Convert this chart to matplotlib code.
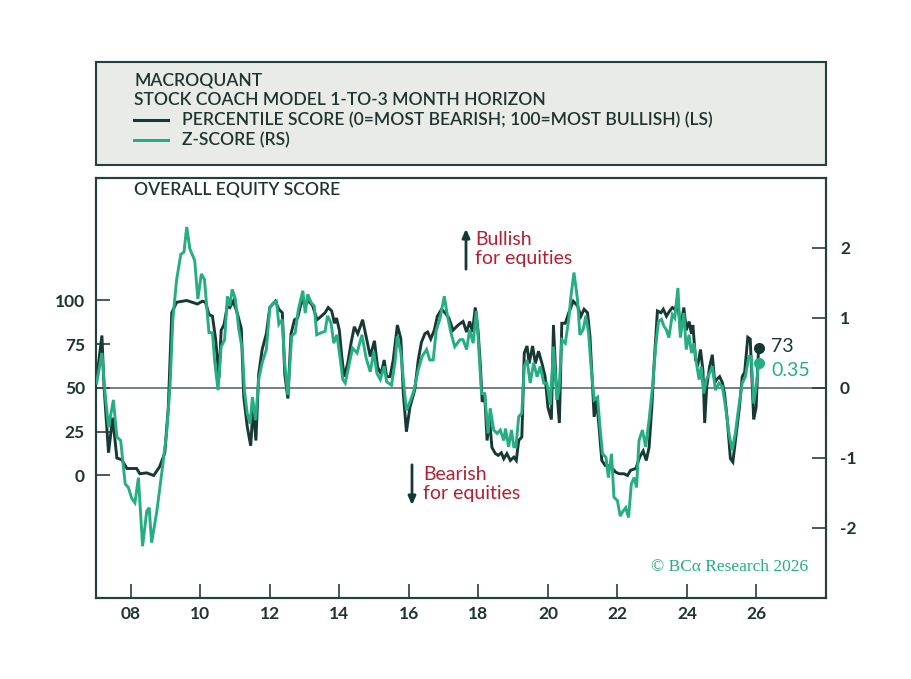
import matplotlib
matplotlib.use("Agg")
import matplotlib.pyplot as plt
from matplotlib.patches import Rectangle
from matplotlib.lines import Line2D

# ---------------- data ----------------
pct_dates = [2007.02, 2007.17, 2007.23, 2007.36, 2007.48, 2007.60, 2007.74, 2007.89, 2008.17, 2008.26,
             2008.46, 2008.66, 2008.83, 2008.98, 2009.08, 2009.18, 2009.32, 2009.61, 2009.92, 2010.06,
             2010.15, 2010.25, 2010.35, 2010.44, 2010.54, 2010.60, 2010.68, 2010.78, 2010.85, 2010.95,
             2011.06, 2011.18, 2011.25, 2011.35, 2011.45, 2011.52, 2011.60, 2011.68, 2011.78, 2011.90,
             2012.00, 2012.16, 2012.26, 2012.36, 2012.43, 2012.52, 2012.61, 2012.71, 2012.80, 2012.92,
             2013.02, 2013.11, 2013.23, 2013.36, 2013.48, 2013.59, 2013.68, 2013.78, 2013.86, 2013.92,
             2014.00, 2014.07, 2014.14, 2014.24, 2014.34, 2014.43, 2014.53, 2014.67, 2014.77, 2014.89,
             2015.01, 2015.10, 2015.20, 2015.29, 2015.36, 2015.46, 2015.55, 2015.67, 2015.77, 2015.84,
             2015.93, 2016.03, 2016.17, 2016.27, 2016.36, 2016.46, 2016.54, 2016.63, 2016.73, 2016.82,
             2016.94, 2017.04, 2017.15, 2017.27, 2017.42, 2017.56, 2017.66, 2017.75, 2017.83, 2017.91,
             2017.99, 2018.06, 2018.11, 2018.18, 2018.25, 2018.32, 2018.39, 2018.49, 2018.57, 2018.66,
             2018.73, 2018.82, 2018.92, 2019.02, 2019.09, 2019.16, 2019.25, 2019.32, 2019.40, 2019.46,
             2019.56, 2019.64, 2019.73, 2019.83, 2019.92, 2020.00, 2020.10, 2020.16, 2020.23, 2020.33,
             2020.40, 2020.50, 2020.60, 2020.73, 2020.85, 2020.95, 2021.04, 2021.14, 2021.21, 2021.28,
             2021.33, 2021.40, 2021.47, 2021.55, 2021.65, 2021.76, 2021.86, 2021.95, 2022.05, 2022.19,
             2022.29, 2022.38, 2022.53, 2022.64, 2022.74, 2022.83, 2022.91, 2022.99, 2023.05, 2023.15,
             2023.25, 2023.32, 2023.41, 2023.50, 2023.58, 2023.65, 2023.74, 2023.81, 2023.91, 2023.98,
             2024.06, 2024.13, 2024.17, 2024.25, 2024.32, 2024.39, 2024.46, 2024.51, 2024.57, 2024.65,
             2024.73, 2024.80, 2024.86, 2024.94, 2025.02, 2025.08, 2025.16, 2025.25, 2025.32, 2025.42,
             2025.51, 2025.59, 2025.66, 2025.75, 2025.82, 2025.92, 2025.99, 2026.06]
pct_values = [55, 80, 51, 13, 33, 10, 9, 4, 4, 1,
              1.5, 0, 5, 13, 39, 93, 99, 100, 98, 99.6,
              99, 92, 91, 78, 56, 83, 86, 97, 96, 99.6,
              93, 84, 45, 28, 17, 39, 20, 58, 72, 81,
              96, 99.6, 95, 93, 58, 44, 81, 89, 90, 100,
              97, 100, 97, 89, 91, 93, 96, 94, 87, 90,
              83, 68, 56.5, 64, 76, 85, 81, 89, 79.5, 68,
              77, 62, 58, 66, 56.5, 56.5, 66, 86, 78, 47,
              25, 39, 49, 66, 76, 81, 82, 78, 83, 91,
              95, 93, 90, 83, 86, 88, 82, 88, 82, 96,
              83, 62, 42, 47, 20, 32, 16, 12.5, 11.5, 13,
              9.6, 12.5, 8.6, 10.5, 8.6, 20, 22, 70, 74, 64,
              74, 64, 71, 64, 56.5, 39, 32, 86, 55, 30,
              87, 87, 93, 99.6, 97, 91, 95, 93, 79.5, 53,
              33.5, 43, 28, 8.6, 5.7, 5.7, 3.9, 1.9, 1, 1,
              0, 3, 4, 10.5, 14, 8.6, 16, 39, 62, 94,
              93, 95, 91, 94, 96, 95, 99, 83, 96, 83,
              88, 81, 86, 66, 64, 72, 60, 30, 51, 62,
              69, 53, 55, 56.5, 53, 47, 32, 9.6, 7.7, 24,
              39, 56.5, 59, 79, 78, 32, 39, 73]

z_dates = [2007.02, 2007.17, 2007.26, 2007.36, 2007.50, 2007.60, 2007.71, 2007.84, 2007.93, 2008.03,
           2008.12, 2008.22, 2008.34, 2008.46, 2008.53, 2008.60, 2008.75, 2008.89, 2009.03, 2009.13,
           2009.21, 2009.32, 2009.44, 2009.53, 2009.61, 2009.70, 2009.84, 2009.93, 2010.03, 2010.12,
           2010.25, 2010.35, 2010.41, 2010.51, 2010.60, 2010.70, 2010.78, 2010.85, 2010.92, 2011.01,
           2011.11, 2011.21, 2011.27, 2011.35, 2011.43, 2011.50, 2011.59, 2011.68, 2011.78, 2011.90,
           2012.00, 2012.11, 2012.19, 2012.26, 2012.36, 2012.42, 2012.52, 2012.63, 2012.73, 2012.82,
           2012.95, 2013.02, 2013.09, 2013.19, 2013.28, 2013.35, 2013.48, 2013.59, 2013.66, 2013.76,
           2013.84, 2013.93, 2014.03, 2014.10, 2014.17, 2014.27, 2014.38, 2014.51, 2014.65, 2014.77,
           2014.89, 2014.99, 2015.08, 2015.18, 2015.29, 2015.36, 2015.50, 2015.60, 2015.67, 2015.77,
           2015.87, 2015.93, 2016.03, 2016.15, 2016.27, 2016.38, 2016.51, 2016.60, 2016.70, 2016.79,
           2016.89, 2017.02, 2017.11, 2017.21, 2017.32, 2017.47, 2017.56, 2017.66, 2017.75, 2017.85,
           2017.94, 2017.99, 2018.09, 2018.18, 2018.28, 2018.34, 2018.44, 2018.54, 2018.63, 2018.73,
           2018.78, 2018.87, 2018.95, 2019.02, 2019.08, 2019.16, 2019.25, 2019.32, 2019.40, 2019.49,
           2019.59, 2019.69, 2019.78, 2019.88, 2019.97, 2020.07, 2020.16, 2020.26, 2020.32, 2020.40,
           2020.50, 2020.60, 2020.66, 2020.75, 2020.85, 2020.92, 2021.01, 2021.09, 2021.17, 2021.24,
           2021.33, 2021.43, 2021.49, 2021.57, 2021.67, 2021.74, 2021.83, 2021.90, 2022.00, 2022.08,
           2022.16, 2022.24, 2022.32, 2022.40, 2022.48, 2022.55, 2022.62, 2022.72, 2022.81, 2022.91,
           2023.01, 2023.10, 2023.18, 2023.27, 2023.34, 2023.41, 2023.48, 2023.58, 2023.65, 2023.74,
           2023.81, 2023.91, 2023.98, 2024.06, 2024.13, 2024.20, 2024.27, 2024.35, 2024.41, 2024.48,
           2024.56, 2024.65, 2024.73, 2024.82, 2024.92, 2025.02, 2025.11, 2025.21, 2025.30, 2025.39,
           2025.49, 2025.59, 2025.68, 2025.78, 2025.85, 2025.92, 2025.99, 2026.06]
z_values = [0.07, 0.50, -0.07, -0.56, -0.17, -0.70, -0.75, -1.37, -1.42, -1.58,
            -1.64, -1.28, -2.26, -1.76, -1.71, -2.21, -1.76, -1.22, -0.65, 0.02,
            0.98, 1.55, 1.91, 1.94, 2.30, 1.99, 1.82, 1.27, 1.63, 1.55,
            0.79, 0.79, 0.40, -0.03, 0.59, 0.69, 1.31, 1.17, 1.41, 1.27,
            0.83, 0.55, -0.03, -0.36, -0.51, -0.13, -0.46, 0.12, 0.36, 0.55,
            1.15, 1.22, 1.24, 0.91, 0.98, 0.40, -0.10, 0.74, 0.79, 1.12,
            1.39, 1.07, 1.34, 1.22, 1.17, 0.76, 0.79, 0.81, 1.03, 0.93,
            0.64, 0.76, 0.40, 0.12, 0.07, 0.31, 0.57, 0.50, 0.76, 0.43,
            0.23, 0.52, 0.21, 0.12, 0.31, 0.09, 0.04, 0.36, 0.74, 0.50,
            -0.03, -0.32, -0.20, -0.03, 0.26, 0.45, 0.55, 0.40, 0.40, 0.83,
            0.98, 1.31, 1.03, 0.79, 0.59, 0.69, 0.69, 0.55, 0.83, 0.64,
            1.10, 0.74, -0.08, -0.08, -0.65, -0.29, -0.60, -0.65, -0.60, -0.75,
            -0.58, -0.84, -0.60, -0.84, -0.84, -0.41, -0.36, 0.31, 0.40, 0.07,
            0.36, 0.16, 0.31, 0.07, 0.07, -0.24, 0.59, -0.17, -0.03, 0.69,
            0.64, 0.98, 1.30, 1.65, 1.27, 0.76, 0.83, 1.03, 0.79, 0.31,
            -0.17, -0.13, -0.51, -0.94, -0.99, -1.28, -0.94, -1.56, -1.61, -1.83,
            -1.76, -1.71, -1.85, -1.37, -1.28, -1.42, -0.75, -0.60, -0.84, -0.46,
            0.02, 0.59, 0.95, 0.98, 0.88, 0.83, 0.72, 1.05, 1.00, 1.43,
            0.72, 1.07, 0.55, 0.76, 0.50, 0.64, 0.36, 0.12, 0.31, -0.08,
            0.12, 0.21, 0.31, -0.03, 0.07, 0.02, -0.27, -0.65, -0.89, -0.65,
            -0.27, 0.07, 0.16, 0.45, 0.45, -0.22, 0.02, 0.35]

x_ticks = [2008, 2010, 2012, 2014, 2016, 2018, 2020, 2022, 2024, 2026]
x_tick_labels = ["08", "10", "12", "14", "16", "18", "20", "22", "24", "26"]
left_ticks = [0, 25, 50, 75, 100]
right_ticks = [-2, -1, 0, 1, 2]

title_lines = ["MACROQUANT", "STOCK COACH MODEL 1-TO-3 MONTH HORIZON"]
legend_labels = ["PERCENTILE SCORE (0=MOST BEARISH; 100=MOST BULLISH) (LS)", "Z-SCORE (RS)"]
panel_title = "OVERALL EQUITY SCORE"

# ---------------- style ----------------
DARK = "#173934"
GREEN = "#26ad84"
RED = "#b3202f"
FRAME = "#24403c"
HEADER_BG = "#e9ebe7"
TEXT = "#1f3431"
FONT = "Lato"

plt.rcParams["font.family"] = [FONT, "DejaVu Sans"]

W, H = 912, 679
fig = plt.figure(figsize=(W / 100, H / 100), dpi=100)
fig.patch.set_facecolor("white")

def fx(px):
    return px / W

def fy(py):
    return 1 - py / H

HW = 600  # header text weight

# header box
fig.patches.append(Rectangle((fx(96), fy(165)), fx(826) - fx(96), fy(62) - fy(165),
                             transform=fig.transFigure, facecolor=HEADER_BG,
                             edgecolor=FRAME, linewidth=1.5, zorder=0))
hs = 12.6
fig.text(fx(134), fy(80), title_lines[0], fontsize=hs, color=TEXT, va="center", weight=HW)
fig.text(fx(134), fy(100), title_lines[1], fontsize=hs, color=TEXT, va="center", weight=HW)
fig.lines.append(Line2D([fx(134), fx(168)], [fy(120), fy(120)], transform=fig.transFigure,
                        color=DARK, linewidth=2.2))
fig.text(fx(182), fy(120), legend_labels[0], fontsize=hs, color=TEXT, va="center", weight=HW)
fig.lines.append(Line2D([fx(134), fx(168)], [fy(140), fy(140)], transform=fig.transFigure,
                        color=GREEN, linewidth=2.2))
fig.text(fx(182), fy(140), legend_labels[1], fontsize=hs, color=TEXT, va="center", weight=HW)

# main axes
ax = fig.add_axes([fx(96), fy(598), fx(826) - fx(96), fy(178) - fy(598)])
ax2 = ax.twinx()

ax.set_xlim(2007.0, 2028.0)
ax.set_ylim(-70, 170)
ax2.set_ylim(-3, 3)

ax.axhline(50, color="#4d5f5b", linewidth=1.1, zorder=1)

ax.plot(pct_dates, pct_values, color=DARK, linewidth=2.1, zorder=3, solid_joinstyle="miter")
ax2.plot(z_dates, z_values, color=GREEN, linewidth=2.1, zorder=3, solid_joinstyle="miter")

# end-point markers and labels
ax2.plot([z_dates[-1]], [z_values[-1]], "o", color=GREEN, markersize=7, zorder=5)
ax.plot([pct_dates[-1]], [pct_values[-1]], "o", color=DARK, markersize=7, zorder=6)
ax.annotate(f"{pct_values[-1]:.0f}", (pct_dates[-1], pct_values[-1]), xytext=(9, 1),
            textcoords="offset points", fontsize=14, color=DARK, va="center", ha="left")
ax2.annotate(f"{z_values[-1]:.2f}", (z_dates[-1], z_values[-1]), xytext=(9, -5),
             textcoords="offset points", fontsize=14, color=GREEN, va="center", ha="left")

for a in (ax, ax2):
    for s in a.spines.values():
        s.set_color(FRAME)
        s.set_linewidth(1.5)
    a.set_facecolor("none")

ax.set_xticks(x_ticks)
ax.set_xticklabels(x_tick_labels)
ax.set_yticks(left_ticks)
ax.set_yticklabels([str(t) for t in left_ticks])
ax2.set_yticks(right_ticks)
ax2.set_yticklabels([str(t) for t in right_ticks])

ax.tick_params(axis="x", direction="in", length=10, width=1.2, color=FRAME, pad=6,
               labelsize=12.5, labelcolor=TEXT)
ax.tick_params(axis="y", direction="in", length=10, width=1.2, color=FRAME, pad=8,
               labelsize=12.5, labelcolor=TEXT)
ax2.tick_params(axis="y", direction="in", length=10, width=1.2, color=FRAME, pad=10,
                labelsize=12.5, labelcolor=TEXT)
for lab in ax.get_xticklabels() + ax.get_yticklabels() + ax2.get_yticklabels():
    lab.set_fontweight("bold")

# panel title
ax.text((134 - 96) / (826 - 96), 1 - (190 - 178) / (598 - 178), panel_title,
        transform=ax.transAxes, fontsize=hs, color=TEXT, va="center", ha="left", weight=HW)

# annotations
def axfrac(px, py):
    return ((px - 96) / (826 - 96), 1 - (py - 178) / (598 - 178))

ax.annotate("", xy=axfrac(466, 226), xytext=axfrac(466, 272), xycoords="axes fraction",
            textcoords="axes fraction",
            arrowprops=dict(arrowstyle="-|>,head_length=0.5,head_width=0.22", color=DARK, lw=2))
ax.text(*axfrac(475, 249), "Bullish\nfor equities", transform=ax.transAxes, fontsize=14,
        color=RED, va="center", ha="left", linespacing=1.1)
ax.annotate("", xy=axfrac(412, 508), xytext=axfrac(412, 462), xycoords="axes fraction",
            textcoords="axes fraction",
            arrowprops=dict(arrowstyle="-|>,head_length=0.5,head_width=0.22", color=DARK, lw=2))
ax.text(*axfrac(423, 484), "Bearish\nfor equities", transform=ax.transAxes, fontsize=14,
        color=RED, va="center", ha="left", linespacing=1.1)

# copyright
ax.text(*axfrac(808, 567), "\u00a9 BC\u03b1 Research 2026", transform=ax.transAxes,
        fontsize=12.5, color=GREEN, va="center", ha="right", family="Liberation Serif")

fig.savefig("out.png", dpi=100, facecolor="white")
